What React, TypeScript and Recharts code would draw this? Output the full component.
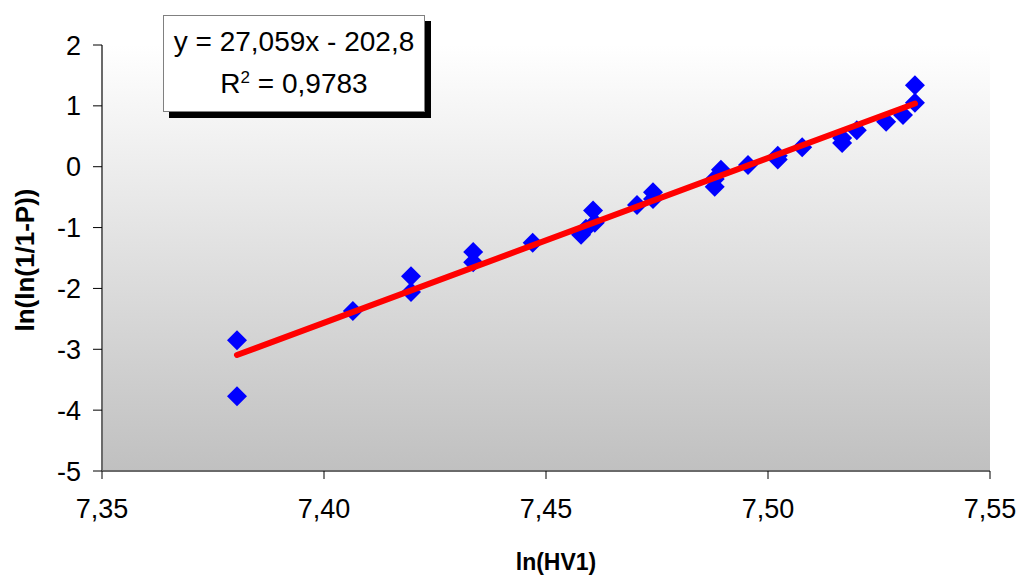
import {
  CartesianGrid,
  ScatterChart,
  Scatter,
  XAxis,
  YAxis,
} from "recharts";

// ln(HV1) values and matching ln(ln(1/1-P)) values
const lnHv = [
  7.3804, 7.3804, 7.4065, 7.4196, 7.4196, 7.4336, 7.4336, 7.447, 7.4579,
  7.459, 7.4606, 7.461, 7.4705, 7.4741, 7.4741, 7.488, 7.488, 7.4894, 7.4955,
  7.5022, 7.5022, 7.5077, 7.5167, 7.5167, 7.52, 7.5266, 7.5304, 7.5331, 7.5331,
];
const lnLnP = [
  -2.85, -3.77, -2.37, -1.8, -2.06, -1.4, -1.57, -1.25, -1.12, -1.02, -0.72,
  -0.92, -0.63, -0.42, -0.53, -0.2, -0.33, -0.05, 0.03, 0.18, 0.12, 0.32, 0.39,
  0.47, 0.6, 0.74, 0.85, 1.05, 1.34,
];

const xTicks = [7.35, 7.4, 7.45, 7.5, 7.55];
const yTicks = [-5, -4, -3, -2, -1, 0, 1, 2];

// trend line as printed in the chart
const slope = 27.059;
const intercept = -202.8;
const equationText = "y = 27,059x - 202,8";
const r2Text = "0,9783";

const points = lnHv.map((x, i) => ({ x, y: lnLnP[i] }));
const xMin = Math.min(...lnHv);
const xMax = Math.max(...lnHv);
const trend = [
  { x: xMin, y: slope * xMin + intercept },
  { x: xMax, y: slope * xMax + intercept },
];

const FONT = "Arial, 'Liberation Sans', sans-serif";

const Diamond = (props: { cx?: number; cy?: number }) => {
  const { cx = 0, cy = 0 } = props;
  const r = 10;
  return (
    <polygon
      points={`${cx},${cy - r} ${cx + r},${cy} ${cx},${cy + r} ${cx - r},${cy}`}
      fill="#0000FF"
    />
  );
};

const YLabel = (props: any) => {
  const vb = props.viewBox || { x: 0, y: 0, width: 0, height: 0 };
  const x = vb.x + 25;
  const y = vb.y + vb.height / 2 + 2;
  return (
    <text
      x={x}
      y={y}
      transform={`rotate(-90, ${x}, ${y})`}
      textAnchor="middle"
      dominantBaseline="central"
      fontFamily={FONT}
      fontWeight="bold"
      fontSize={26}
      fill="#000"
    >
      ln(ln(1/1-P))
    </text>
  );
};

const XLabel = (props: any) => {
  const vb = props.viewBox || { x: 0, y: 0, width: 0, height: 0 };
  return (
    <text
      x={vb.x + vb.width / 2 + 10}
      y={570}
      textAnchor="middle"
      fontFamily={FONT}
      fontWeight="bold"
      fontSize={23}
      fill="#000"
    >
      ln(HV1)
    </text>
  );
};

const fmt = (v: number) => v.toFixed(2).replace(".", ",");

export default function App() {
  return (
    <div style={{ position: "absolute", left: 0, top: 0, width: 1023, height: 579, background: "#fff" }}>
      <ScatterChart
        width={1023}
        height={579}
        margin={{ top: 45, right: 33, left: 0, bottom: 0 }}
      >
        <defs>
          <linearGradient id="plotBg" x1="0" y1="0" x2="0" y2="1">
            <stop offset="0%" stopColor="#ffffff" />
            <stop offset="100%" stopColor="#c0c0c0" />
          </linearGradient>
        </defs>
        <CartesianGrid
          horizontal={false}
          vertical={false}
          fill="url(#plotBg)"
          stroke="none"
        />
        <XAxis
          type="number"
          dataKey="x"
          domain={[7.35, 7.55]}
          ticks={xTicks}
          tickFormatter={fmt}
          height={108}
          tickSize={8}
          tickMargin={20}
          axisLine={{ stroke: "#6a6a6a", strokeWidth: 2 }}
          tickLine={{ stroke: "#000" }}
          tick={{ fill: "#000", fontSize: 27, fontFamily: FONT }}
          allowDataOverflow
          label={<XLabel />}
        />
        <YAxis
          type="number"
          dataKey="y"
          domain={[-5, 2]}
          ticks={yTicks}
          width={102}
          tickSize={9}
          tickMargin={12}
          axisLine={{ stroke: "#6a6a6a", strokeWidth: 2 }}
          tickLine={{ stroke: "#000" }}
          tick={{ fill: "#000", fontSize: 27, fontFamily: FONT }}
          allowDataOverflow
          label={<YLabel />}
        />
        <Scatter
          data={points}
          shape={<Diamond />}
          isAnimationActive={false}
        />
        <Scatter
          data={trend}
          line={{ stroke: "#FF0000", strokeWidth: 6, strokeLinecap: "round" }}
          shape={() => <g />}
          isAnimationActive={false}
        />
      </ScatterChart>
      <div
        style={{
          position: "absolute",
          left: 163,
          top: 15,
          width: 262,
          height: 97,
          border: "1px solid #808080",
          background: "#fff",
          boxShadow: "6px 6px 0 #000",
          fontFamily: FONT,
          fontSize: 28,
          color: "#000",
          textAlign: "center",
          lineHeight: "42px",
          paddingTop: 5,
          boxSizing: "border-box",
        }}
      >
        <div>{equationText}</div>
        <div>
          R<sup style={{ fontSize: 17, lineHeight: 0 }}>2</sup> = {r2Text}
        </div>
      </div>
    </div>
  );
}
